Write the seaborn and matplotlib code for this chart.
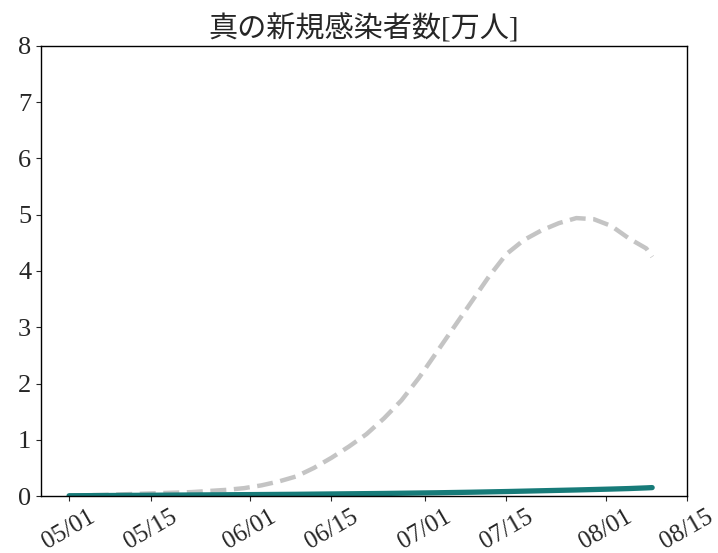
import matplotlib
matplotlib.use("Agg")
import matplotlib.pyplot as plt
import numpy as np
import pandas as pd
import seaborn as sns

# Sample dates (every 3 days from May 1, plus the final day)
dates = ["05-01", "05-04", "05-07", "05-10", "05-13", "05-16", "05-19", "05-22",
         "05-25", "05-28", "05-31", "06-03", "06-06", "06-09", "06-12", "06-15",
         "06-18", "06-21", "06-24", "06-27", "06-30", "07-03", "07-06", "07-09",
         "07-12", "07-15", "07-18", "07-21", "07-24", "07-27", "07-30", "08-02",
         "08-05", "08-08", "08-09"]

# Estimated true new infections [10k people]
true_cases = [0.01, 0.015, 0.02, 0.03, 0.04, 0.05, 0.06, 0.07,
              0.09, 0.11, 0.14, 0.19, 0.26, 0.35, 0.50, 0.68,
              0.88, 1.10, 1.38, 1.70, 2.10, 2.55, 3.00, 3.45,
              3.90, 4.30, 4.55, 4.72, 4.85, 4.94, 4.92, 4.80,
              4.58, 4.40, 4.25]

# Reported new infections [10k people]
reported_cases = [0.005, 0.007, 0.009, 0.011, 0.013, 0.015, 0.017, 0.019,
                  0.021, 0.023, 0.025, 0.027, 0.029, 0.031, 0.034, 0.037,
                  0.040, 0.043, 0.046, 0.050, 0.054, 0.058, 0.063, 0.068,
                  0.074, 0.080, 0.087, 0.094, 0.101, 0.108, 0.116, 0.124,
                  0.133, 0.145, 0.150]

tick_labels = ["05/01", "05/15", "06/01", "06/15", "07/01", "07/15", "08/01", "08/15"]

df = pd.DataFrame({
    "date": pd.to_datetime(["2022-" + d for d in dates]),
    "true": true_cases,
    "reported": reported_cases,
})

sns.set_style("ticks")
plt.rcParams["font.family"] = ["Liberation Serif", "Noto Sans CJK JP"]

fig = plt.figure(figsize=(7.18, 5.53), dpi=100)
ax = fig.add_axes([0.057, 0.103, 0.900, 0.814])

sns.lineplot(data=df, x="date", y="true", ax=ax, color="#c4c4c4",
             linewidth=3.2, linestyle=(0, (3.6, 1.7)))
sns.lineplot(data=df, x="date", y="reported", ax=ax, color="#177b79",
             linewidth=3.8)

tick_dates = pd.to_datetime(["2022-" + t.replace("/", "-") for t in tick_labels])
ax.set_xticks(tick_dates)
ax.set_xticklabels(tick_labels, rotation=30, fontsize=18)
ax.set_xlim(pd.Timestamp("2022-04-26 04:00"), pd.Timestamp("2022-08-15"))
ax.set_ylim(0, 8)
ax.set_yticks(range(0, 9))
ax.tick_params(axis="y", labelsize=19)
ax.set_xlabel("")
ax.set_ylabel("")
for s in ax.spines.values():
    s.set_visible(True)
    s.set_color("black")
    s.set_linewidth(1.0)

ax.set_title("真の新規感染者数[万人]", fontsize=21,
             family=["Liberation Serif", "Noto Sans CJK JP"], pad=6)

fig.savefig("out.png", dpi=100, facecolor="white")
